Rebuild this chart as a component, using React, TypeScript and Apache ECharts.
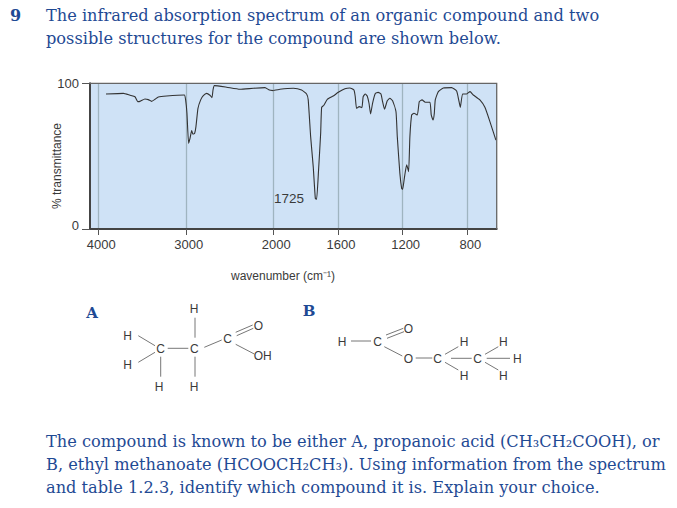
import React, { useEffect, useRef } from "react";
import * as echarts from "echarts";

// spectrum readings: [wavenumber, % transmittance]
const spectrumHigh: number[][] = [
  [3912, 92.7], [3714, 93.1], [3638, 91.8], [3581, 90.8], [3550, 87.4], [3524, 87.6], [3467, 89.2], [3429, 88.8],
  [3390, 87.6], [3352, 89], [3314, 90.6], [3219, 91.3], [3017, 92], [3002, 88.6], [2987, 79.4], [2968, 58.8],
  [2952, 62.2], [2933, 67.5], [2918, 65], [2899, 65.7], [2884, 70.3], [2861, 82.8], [2830, 88.6], [2800, 91.5],
  [2762, 93.1], [2724, 91.8], [2701, 90.2], [2689, 95.4], [2674, 98.4], [2533, 97.3], [2381, 95.9], [2228, 96.6],
  [2095, 97], [2045, 95.4], [2000, 95],
];
const spectrumLow: number[][] = [
  [2000, 95], [1959, 95.9], [1876, 96.6], [1825, 95.4], [1794, 92.7], [1784, 88.6], [1769, 63.4], [1753, 42.8],
  [1740, 21], [1732, 20.4], [1720, 40.5], [1707, 65.7], [1701, 83.5], [1687, 84.9], [1666, 89], [1629, 91.3],
  [1598, 93.8], [1557, 96.3], [1526, 96.8], [1501, 95.4], [1493, 90.8], [1485, 82.8], [1468, 84], [1452, 83.3],
  [1444, 90.8], [1431, 92.7], [1419, 91.3], [1408, 86.3], [1398, 79], [1386, 86.3], [1369, 93], [1351, 93.8],
  [1334, 92.7], [1324, 87.4], [1312, 82.2], [1295, 88], [1279, 89.7], [1262, 88], [1241, 80.5], [1233, 63.4],
  [1217, 38.2], [1206, 27.9], [1200, 27.2], [1188, 36], [1175, 44], [1163, 39.4], [1155, 63.4], [1144, 78.3],
  [1130, 79.4], [1109, 78.3], [1097, 87.4], [1080, 88.6], [1060, 87], [1031, 87], [1023, 78.3], [1012, 74.8],
  [1004, 79.4], [998, 88.6], [979, 94.3], [948, 96.8], [897, 97], [866, 94.7], [853, 88.6], [843, 83.5],
  [829, 92.7], [804, 92.7], [783, 94.3], [763, 92], [722, 88.6], [691, 83.5], [660, 73.7], [623, 61],
];
const ticksHigh = [2000, 3000, 4000];
const ticksLow = [800, 1200, 1600];
const ticksY = [0, 100];
const questionNumber = "9";
const introLines = [
  "The infrared absorption spectrum of an organic compound and two",
  "possible structures for the compound are shown below.",
];
const outroLines = [
  "The compound is known to be either A, propanoic acid (CH₃CH₂COOH), or",
  "B, ethyl methanoate (HCOOCH₂CH₃). Using information from the spectrum",
  "and table 1.2.3, identify which compound it is. Explain your choice.",
];

const BLUE = "#1f4a94";
const INK = "#3a3a3a";
const BOND = "#777777";
const SANS = "'Liberation Sans', sans-serif";
const SERIF = "'DejaVu Serif', serif";
const PLOT = { left: 90, top: 83.3, height: 145.7, split: 273.3, right: 496.7 };

const bonds: number[][] = [
  [195, 317.7, 195, 337.7], [167.7, 348.3, 188.3, 348.3], [138.3, 335.7, 155, 345.7], [138.3, 362.3, 155, 352.3],
  [160.7, 356.7, 160.7, 376.7], [195, 356.7, 195, 376.7], [204.3, 347.3, 221.7, 340], [235.7, 332.3, 252.7, 325],
  [236.7, 335.7, 253.3, 328.3], [235.7, 344.3, 254.3, 354],
  [351, 341, 371, 341], [386, 335, 403.3, 328.3], [387, 338.3, 404, 331.7], [384.3, 346.7, 402.3, 356],
  [415.7, 358, 432.3, 358], [445, 354.3, 458.3, 346.7], [445, 362.3, 458.3, 370], [451, 358.3, 471.7, 358.3],
  [485, 354.3, 498.3, 346.7], [485, 362.3, 498.3, 370], [486.7, 358.3, 510, 358.3],
];
const atoms: [string, number, number][] = [
  ["H", 194, 309], ["C", 194.3, 349.3], ["C", 160.7, 349.3], ["H", 127.7, 335.7], ["H", 127.7, 365], ["H", 159, 386.7],
  ["H", 194, 386.7], ["C", 227.7, 339.3], ["O", 258.3, 326], ["OH", 262.7, 356],
  ["H", 342, 342.3], ["C", 377.7, 342.3], ["O", 408.3, 329], ["O", 408.3, 359], ["C", 437.7, 359], ["H", 464, 342.3],
  ["H", 464, 375.7], ["C", 477.7, 359], ["H", 503.3, 342.3], ["H", 503.3, 375.7], ["H", 517.3, 359],
];

function text(t: string, x: number, y: number, font: string, size: number, fill: string, extra: any = {}) {
  return {
    type: "text", x, y, silent: true, z: 10, ...extra.el,
    style: { text: t, x: 0, y: 0, fontFamily: font, fontSize: size, fill, textAlign: "left", textVerticalAlign: "middle", verticalAlign: "middle", ...extra.style },
  };
}

export default function App() {
  const ref = useRef<HTMLDivElement>(null);
  useEffect(() => {
    const chart = echarts.init(ref.current!, null, { renderer: "svg" });
    const plain = (v: number) => String(v);
    const axisLine = { show: true, onZero: false, lineStyle: { color: "#444", width: 2 } };
    const axisTick = { show: true, length: 6, lineStyle: { color: "#555", width: 1 } };
    const labelStyle = { color: INK, fontFamily: SANS, fontSize: 13, margin: 9, padding: [0, 0, 0, 6], formatter: plain };
    const split = { show: true, lineStyle: { color: "#9fb4c0", width: 1.3 } };
    const center = { style: { textAlign: "center", align: "center" } };
    const graphic: any[] = [
      { type: "polyline", silent: true, z: 5, shape: { points: [[PLOT.left, PLOT.top], [PLOT.right, PLOT.top], [PLOT.right, PLOT.top + PLOT.height]] }, style: { stroke: "#666", lineWidth: 1.3, fill: "none" } },
      text(questionNumber, 10, 15, SERIF, 16, BLUE, { style: { fontWeight: "bold" } }),
      ...introLines.map((l, i) => text(l, 46, 15 + i * 23, SERIF, 16.2, BLUE)),
      ...outroLines.map((l, i) => text(l, 46, 441 + i * 23, SERIF, 16.2, BLUE)),
      text("1725", 274, 198, SANS, 13.5, INK),
      text("% transmittance", 57, 166, SANS, 12, INK, { el: { rotation: Math.PI / 2 }, ...center }),
      text("wavenumber (cm⁻¹)", 283, 275.5, SANS, 12, INK, center),
      text("A", 92, 312.5, SERIF, 15, BLUE, { style: { fontWeight: "bold", textAlign: "center", align: "center" } }),
      text("B", 309, 311, SERIF, 15, BLUE, { style: { fontWeight: "bold", textAlign: "center", align: "center" } }),
      ...bonds.map((b) => ({ type: "line", silent: true, shape: { x1: b[0], y1: b[1], x2: b[2], y2: b[3] }, style: { stroke: BOND, lineWidth: 1 } })),
      ...atoms.map(([t, x, y]) => text(t, x, y, SANS, 12, INK, center)),
    ];
    chart.setOption({
      animation: false,
      backgroundColor: "#ffffff",
      grid: [
        { left: PLOT.left, top: PLOT.top, width: PLOT.split - PLOT.left, height: PLOT.height, show: true, backgroundColor: "#cfe2f6", borderWidth: 0 },
        { left: PLOT.split, top: PLOT.top, width: PLOT.right - PLOT.split, height: PLOT.height, show: true, backgroundColor: "#cfe2f6", borderWidth: 0 },
      ],
      xAxis: [
        { type: "value", gridIndex: 0, inverse: true, min: 2000, max: 4095, axisLine, axisTick: { ...axisTick, customValues: ticksHigh }, axisLabel: { ...labelStyle, customValues: ticksHigh }, splitLine: split },
        { type: "value", gridIndex: 1, inverse: true, min: 618, max: 2000, axisLine, axisTick: { ...axisTick, customValues: ticksLow }, axisLabel: { ...labelStyle, customValues: ticksLow }, splitLine: split },
      ],
      yAxis: [
        {
          type: "value", gridIndex: 0, min: 0, max: 100,
          axisLine, axisTick: { ...axisTick, length: 8, customValues: ticksY },
          axisLabel: { color: INK, fontFamily: SANS, fontSize: 13, margin: 11, lineHeight: 7, customValues: ticksY, verticalAlignMinLabel: "bottom", formatter: plain },
          splitLine: { show: false },
        },
        { type: "value", gridIndex: 1, min: 0, max: 100, show: false, splitLine: { show: false } },
      ],
      series: [
        { type: "line", xAxisIndex: 0, yAxisIndex: 0, data: spectrumHigh, showSymbol: false, smooth: 0.15, lineStyle: { color: "#333", width: 1.1 }, z: 4 },
        { type: "line", xAxisIndex: 1, yAxisIndex: 1, data: spectrumLow, showSymbol: false, smooth: 0.15, lineStyle: { color: "#333", width: 1.1 }, z: 4 },
      ],
      graphic,
    });
    return () => chart.dispose();
  }, []);
  return <div ref={ref} style={{ position: "absolute", left: 0, top: 0, width: 677, height: 508 }} />;
}
